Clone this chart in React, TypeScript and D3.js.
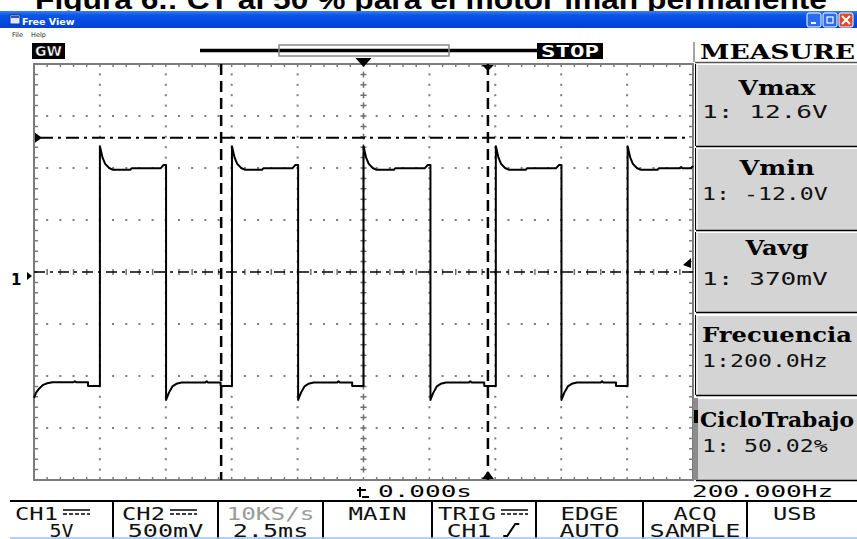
import React from 'react';
import * as d3 from 'd3';

// ---------- data ----------
const titleText = 'Figura 6.: CT al 50 % para el motor imán permanente';
const windowTitle = 'Free View';
const menuItems = ['File', 'Help'];

// time in ms (2.5 ms/div), volts (5 V/div)
const timeDomain = [-12.5, 12.5];
const voltDomain = [-20, 20];
const timeMajorStep = 2.5;
const timeMinorStep = 0.5;
const voltMajorStep = 5;
const voltMinorStep = 1;

const traceCH1: [number, number][] = [
  [-12.5, -12.1], [-12.42, -11.6], [-12.3, -11.2], [-12.15, -10.85], [-12.0, -10.7], [-11.8, -10.6],
  [-11.0, -10.6], [-10.95, -10.5], [-10.9, -10.6], [-10.45, -10.6], [-10.45, -10.95], [-10.0, -10.95],
  [-10.0, 12.1], [-9.9, 11.0], [-9.8, 10.4], [-9.65, 10.0], [-9.5, 9.82], [-8.85, 9.82], [-8.8, 9.97],
  [-7.7, 9.97], [-7.58, 10.3], [-7.49, 10.3],
  [-7.49, -12.3], [-7.38, -11.6], [-7.25, -11.0], [-7.1, -10.75], [-6.9, -10.62], [-6.0, -10.62],
  [-5.95, -10.5], [-5.9, -10.62], [-5.42, -10.62], [-5.42, -10.95], [-4.99, -10.95],
  [-4.99, 12.1], [-4.89, 11.0], [-4.79, 10.4], [-4.64, 10.0], [-4.49, 9.82], [-3.85, 9.82], [-3.8, 9.97],
  [-2.7, 9.97], [-2.58, 10.3], [-2.48, 10.3],
  [-2.48, -12.3], [-2.37, -11.6], [-2.24, -11.0], [-2.09, -10.75], [-1.89, -10.62], [-1.0, -10.62],
  [-0.95, -10.5], [-0.9, -10.62], [-0.43, -10.62], [-0.43, -10.95], [0.0, -10.95],
  [0.0, 12.1], [0.1, 11.0], [0.2, 10.4], [0.35, 10.0], [0.5, 9.82], [1.15, 9.82], [1.2, 9.97],
  [2.32, 9.97], [2.44, 10.3], [2.54, 10.3],
  [2.54, -12.3], [2.65, -11.6], [2.78, -11.0], [2.93, -10.75], [3.13, -10.62], [4.0, -10.62],
  [4.05, -10.5], [4.1, -10.62], [4.58, -10.62], [4.58, -10.95], [5.02, -10.95],
  [5.02, 12.1], [5.12, 11.0], [5.22, 10.4], [5.37, 10.0], [5.52, 9.82], [6.15, 9.82], [6.2, 9.97],
  [7.3, 9.97], [7.42, 10.3], [7.51, 10.3],
  [7.51, -12.3], [7.62, -11.6], [7.75, -11.0], [7.9, -10.75], [8.1, -10.62], [9.0, -10.62],
  [9.05, -10.5], [9.1, -10.62], [9.58, -10.62], [9.58, -10.95], [10.02, -10.95],
  [10.02, 12.1], [10.12, 11.0], [10.22, 10.4], [10.37, 10.0], [10.52, 9.82], [11.15, 9.82], [11.2, 9.97],
  [12.0, 9.97], [12.05, 10.1], [12.1, 9.97], [12.42, 9.97], [12.5, 10.2],
];

const cursorTimes = [-5.4, 4.72];
const cursorLevel = 12.9;
const triggerTime = 0;

const measureNames = ['Vmax', 'Vmin', 'Vavg', 'Frecuencia', 'CicloTrabajo'];
const measureValues = ['1:  12.6V', '1: -12.0V', '1:  370mV', '1:200.0Hz', '1: 50.02%'];

const softkeyTop = ['CH1', 'CH2', '10KS/s', 'MAIN', 'TRIG', 'EDGE', 'ACQ', 'USB'];
const softkeyBottom = ['5V', '500mV', '2.5ms', '', 'CH1', 'AUTO', 'SAMPLE', ''];
const timeLabel = '0.000s';
const freqLabel = '200.000Hz';
const statusLabel = 'STOP';
const logoLabel = 'GW';
const panelHeader = 'MEASURE';

// ---------- layout ----------
const W = 857;
const H = 539;
const PL = 34, PR = 693, PT = 64, PB = 480;
const mono = "'DejaVu Sans Mono', 'Liberation Mono', monospace";
const serif = "'DejaVu Serif', 'Liberation Serif', serif";
const sans = "'DejaVu Sans', 'Liberation Sans', Arial, sans-serif";

const boxYs: [number, number][] = [[64, 146], [148, 230], [232, 312], [315, 395], [398, 480]];
const headerWidths = [77, 75, 63, 150, 154];
const softDividers = [10, 113, 218, 323, 432, 536, 643, 747, 857];

export default function App() {
  const x = d3.scaleLinear().domain(timeDomain).range([PL, PR]);
  const y = d3.scaleLinear().domain(voltDomain).range([PB, PT]);
  const line = d3.line<[number, number]>().x(d => x(d[0])).y(d => y(d[1]));

  const xMajor = d3.range(timeDomain[0], timeDomain[1] + 1e-6, timeMajorStep);
  const xMinor = d3.range(timeDomain[0], timeDomain[1] + 1e-6, timeMinorStep);
  const yMajor = d3.range(voltDomain[0], voltDomain[1] + 1e-6, voltMajorStep);
  const yMinor = d3.range(voltDomain[0], voltDomain[1] + 1e-6, voltMinorStep);

  const dots: any[] = [];
  xMajor.slice(1, -1).forEach((t, i) => {
    if (Math.abs(t) < 1e-6) return;
    yMinor.forEach((v, j) => {
      dots.push(<rect key={`v${i}-${j}`} x={x(t) - 1} y={y(v) - 1} width={2} height={2} fill="#7c7c7c" />);
    });
  });
  yMajor.slice(1, -1).forEach((v, i) => {
    if (Math.abs(v) < 1e-6) return;
    xMinor.forEach((t, j) => {
      dots.push(<rect key={`h${i}-${j}`} x={x(t) - 1} y={y(v) - 1} width={2} height={2} fill="#7c7c7c" />);
    });
  });

  const crosses: any[] = [];
  yMinor.slice(1, -1).forEach((v, j) => {
    const cx = x(0), cy = y(v);
    crosses.push(<path key={`cv${j}`} d={`M${cx - 3},${cy}H${cx + 3}M${cx},${cy - 3}V${cy + 3}`} stroke="#707070" strokeWidth={1.5} />);
  });
  xMinor.slice(1, -1).forEach((t, j) => {
    const cx = x(t), cy = y(0);
    crosses.push(<path key={`ch${j}`} d={`M${cx},${cy - 3}V${cy + 3}`} stroke="#707070" strokeWidth={1.5} />);
  });

  const borderTicks: any[] = [];
  xMinor.slice(1, -1).forEach((t, j) => {
    borderTicks.push(<path key={`bt${j}`} d={`M${x(t)},${PT}v3M${x(t)},${PB}v-3`} stroke="#7c7c7c" strokeWidth={1.5} />);
  });
  yMinor.slice(1, -1).forEach((v, j) => {
    borderTicks.push(<path key={`bl${j}`} d={`M${PL},${y(v)}h4M${PR},${y(v)}h-4`} stroke="#7c7c7c" strokeWidth={1.5} />);
  });

  const monoText = (s: string, props: any, charW: number) => (
    <text {...props} fontFamily={mono} textLength={s.length * charW - 2} lengthAdjust="spacingAndGlyphs">{s}</text>
  );

  const dcSymbol = (x0: number, x1: number) => (
    <g>
      <line x1={x0} x2={x1} y1={510} y2={510} stroke="#000" strokeWidth={1.5} />
      <line x1={x0} x2={x1} y1={514} y2={514} stroke="#000" strokeWidth={1.5} strokeDasharray="4 2" />
    </g>
  );

  const topStarts: Record<number, number> = { 0: 15, 1: 122, 4: 438, 7: 773 };

  return (
    <svg width={W} height={H} style={{ position: 'absolute', left: 0, top: 0, background: '#fff' }}>
      <defs>
        <linearGradient id="tb" x1="0" x2="0" y1="0" y2="1">
          <stop offset="0" stopColor="#3a80f6" />
          <stop offset="0.25" stopColor="#0a56e6" />
          <stop offset="1" stopColor="#0040d8" />
        </linearGradient>
      </defs>
      <rect width={W} height={H} fill="#fff" />

      {/* clipped figure caption */}
      <text x={35} y={9} fontFamily="'Liberation Sans', Arial, sans-serif" fontWeight="bold" fontSize={28}
        textLength={792} lengthAdjust="spacingAndGlyphs">{titleText}</text>

      {/* window title bar */}
      <rect x={0} y={11} width={W} height={17} fill="url(#tb)" />
      <rect x={10} y={15} width={10} height={9} fill="#dfe8ff" stroke="#20308a" strokeWidth={1} />
      <rect x={11} y={16} width={8} height={2} fill="#3050c0" />
      <text x={22} y={24.5} fill="#fff" fontFamily={sans} fontWeight="bold" fontSize={9.5}>{windowTitle}</text>
      {[807, 823].map((bx, i) => (
        <g key={bx}>
          <rect x={bx} y={13} width={14} height={14} rx={2} fill="#2a6cf0" stroke="#fff" strokeWidth={1} />
          {i === 0 ? <rect x={bx + 4} y={22} width={5} height={2} fill="#fff" /> :
            <rect x={bx + 4} y={17} width={6} height={6} fill="none" stroke="#fff" strokeWidth={1.2} />}
        </g>
      ))}
      <rect x={839} y={13} width={14} height={14} rx={2} fill="#e0482a" stroke="#fff" strokeWidth={1} />
      <path d="M842,16L850,24M850,16L842,24" stroke="#fff" strokeWidth={2} />

      {/* menu */}
      {menuItems.map((m, i) => (
        <text key={m} x={12 + i * 19} y={37} fontFamily={sans} fontSize={6.5} fill="#222">{m}</text>
      ))}

      {/* status row */}
      <rect x={32} y={43} width={33} height={16} fill="#000" />
      <text x={48.5} y={56} textAnchor="middle" fill="#fff" fontFamily={sans} fontWeight="bold" fontSize={14}
        stroke="#000" strokeWidth={0.5}>{logoLabel}</text>
      <line x1={200} x2={537} y1={50.5} y2={50.5} stroke="#000" strokeWidth={3.5} />
      <rect x={279} y={45} width={170} height={11} fill="none" stroke="#8a8a8a" strokeWidth={1.5} />
      <rect x={537} y={43} width={66} height={16} fill="#000" />
      <text x={570} y={56.5} textAnchor="middle" fill="#fff" fontFamily={mono} fontWeight="bold" fontSize={15}
        textLength={58} lengthAdjust="spacingAndGlyphs">{statusLabel}</text>

      {/* plot grid */}
      {dots}
      {crosses}
      <rect x={PL} y={PT} width={PR - PL} height={PB - PT} fill="none" stroke="#7c7c7c" strokeWidth={2} />
      {borderTicks}

      {/* ground / level reference lines */}
      <line x1={PL} x2={PR} y1={y(0)} y2={y(0)} stroke="#000" strokeWidth={1.6} strokeDasharray="11 5 3 5" />
      <line x1={PL + 6} x2={PR - 4} y1={y(cursorLevel)} y2={y(cursorLevel)} stroke="#000" strokeWidth={2} strokeDasharray="13 5 3 5" />
      {cursorTimes.map(t => (
        <line key={t} x1={x(t)} x2={x(t)} y1={PT} y2={PB} stroke="#000" strokeWidth={2.5} strokeDasharray="11 6" />
      ))}

      {/* trace */}
      <path d={line(traceCH1) || ''} fill="none" stroke="#000" strokeWidth={2} strokeLinejoin="round" />

      {/* markers */}
      <path d={`M${x(triggerTime) - 8},58H${x(triggerTime) + 8}L${x(triggerTime)},67Z`} fill="#000" />
      <path d={`M${x(cursorTimes[1]) - 6},65H${x(cursorTimes[1]) + 6}L${x(cursorTimes[1])},71Z`} fill="#000" />
      <path d={`M${x(cursorTimes[1]) - 6},479H${x(cursorTimes[1]) + 6}L${x(cursorTimes[1])},471Z`} fill="#000" />
      <path d={`M35,${y(cursorLevel) - 5}L42,${y(cursorLevel)}L35,${y(cursorLevel) + 5}Z`} fill="#000" />
      <text x={11} y={285} fontFamily={sans} fontWeight="bold" fontSize={15}>1</text>
      <path d={`M27,272L32,276L27,280Z`} fill="#000" />
      <path d={`M691,258L683,265L691,268Z`} fill="#000" />

      {/* measure panel */}
      <line x1={694} x2={694} y1={42} y2={62} stroke="#888" strokeWidth={1.5} />
      <text x={700} y={59} fontFamily={serif} fontWeight="bold" fontSize={21} textLength={155}
        lengthAdjust="spacingAndGlyphs">{panelHeader}</text>
      <line x1={695} x2={W} y1={62.5} y2={62.5} stroke="#555" strokeWidth={1.5} />
      {boxYs.map(([y0, y1], i) => (
        <g key={i}>
          <rect x={696} y={y0} width={W - 696} height={y1 - y0} fill="#d4d4d4" />
          <line x1={696} x2={W} y1={y0 + 0.5} y2={y0 + 0.5} stroke="#fff" strokeWidth={1} />
          <line x1={697} x2={697} y1={y0} y2={y1} stroke="#fff" strokeWidth={1} />
          <line x1={696} x2={W} y1={y1 + 0.5} y2={y1 + 0.5} stroke="#000" strokeWidth={1.5} />
          <line x1={695.5} x2={695.5} y1={y0} y2={y1} stroke="#000" strokeWidth={1} />
        </g>
      ))}
      <rect x={693} y={398} width={5} height={82} fill="#8c8c8c" />
      <rect x={694} y={410} width={4} height={13} fill="#000" />
      {measureNames.map((n, i) => (
        <text key={n} x={777} y={[95, 175, 255, 342, 427][i]} textAnchor="middle" fontFamily={serif} fontWeight="bold" fontSize={21}
          textLength={headerWidths[i]} lengthAdjust="spacingAndGlyphs">{n}</text>
      ))}
      {measureValues.map((v, i) => (
        <g key={v}>{monoText(v, { x: 702, y: [118, 200, 285, 367, 452][i], fontSize: 17, fill: '#111' }, 14.2)}</g>
      ))}

      {/* bottom info row */}
      <path d="M360,497V487M357,490H366M362,497H369" stroke="#000" strokeWidth={2} fill="none" />
      {monoText(timeLabel, { x: 378, y: 497, fontSize: 16 }, 16)}
      {monoText(freqLabel, { x: 692, y: 497, fontSize: 16 }, 15.9)}

      {/* soft keys */}
      <line x1={10} x2={W} y1={501} y2={501} stroke="#000" strokeWidth={2} />
      {softDividers.slice(1, -1).map(dx => (
        <line key={dx} x1={dx} x2={dx} y1={500} y2={H} stroke="#000" strokeWidth={2} />
      ))}
      <line x1={10} x2={W} y1={538} y2={538} stroke="#9cc0f4" strokeWidth={1.5} />
      {softkeyTop.map((s, i) => {
        const cx = (softDividers[i] + softDividers[i + 1]) / 2;
        const hasSym = i === 0 || i === 1 || i === 4;
        const cw = 15;
        const tw = s.length * cw - 2;
        const x0 = topStarts[i] !== undefined ? topStarts[i] : cx - tw / 2;
        return (
          <g key={s}>
            <text x={x0} y={520} fontFamily={mono} fontSize={18} fill={i === 2 ? '#9a9a9a' : '#111'}
              textLength={tw} lengthAdjust="spacingAndGlyphs">{s}</text>
            {hasSym && dcSymbol(x0 + tw + 5, x0 + tw + 32)}
          </g>
        );
      })}
      {softkeyBottom.map((s, i) => {
        if (!s) return null;
        const cx = (softDividers[i] + softDividers[i + 1]) / 2;
        const cw = i === 0 ? 13 : 15.5;
        const tw = s.length * cw - 2;
        const hasEdge = i === 4;
        const totalW = hasEdge ? tw + 30 : tw;
        const x0 = cx - totalW / 2;
        return (
          <g key={s + i}>
            <text x={x0} y={537} fontFamily={mono} fontSize={18} fill="#111"
              textLength={tw} lengthAdjust="spacingAndGlyphs">{s}</text>
            {hasEdge && <path d={`M${x0 + tw + 12},536H${x0 + tw + 16}L${x0 + tw + 24},524H${x0 + tw + 28}`} fill="none" stroke="#000" strokeWidth={2} />}
          </g>
        );
      })}
    </svg>
  );
}
